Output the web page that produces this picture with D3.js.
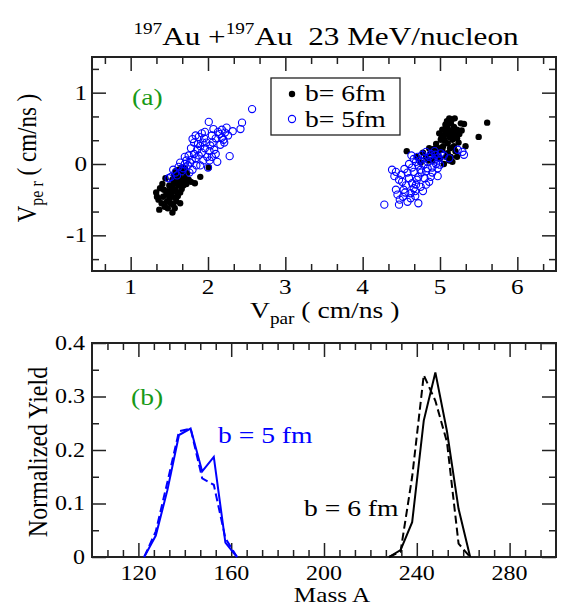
<!DOCTYPE html>
<html><head><meta charset="utf-8">
<script src="https://cdn.jsdelivr.net/npm/d3@7"></script>
<style>
html,body{margin:0;padding:0;background:#fff;}
svg{display:block;}
text{white-space:pre;}
</style></head>
<body><div id="chart"></div>
<script>
// ---------- DATA ----------
// Panel (a): b = 6 fm (filled black), b = 5 fm (open blue)  [Vpar, Vper]
const b6Left = [[1.37,-0.64],[1.54,-0.68],[1.34,-0.46],[1.38,-0.34],[1.45,-0.20],[1.56,-0.17],[1.66,-0.05],[1.90,-0.18],[1.83,-0.27],[2.01,-0.05],[1.64,-0.55],[1.55,-0.57],[1.47,-0.53],[1.42,-0.46],[1.58,-0.36],[1.36,-0.50],[1.40,-0.55],[1.44,-0.60],[1.50,-0.48],[1.52,-0.42],[1.48,-0.38],[1.53,-0.33],[1.56,-0.28],[1.60,-0.25],[1.62,-0.30],[1.65,-0.22],[1.63,-0.15],[1.68,-0.12],[1.70,-0.20],[1.60,-0.40],[1.57,-0.47],[1.61,-0.45],[1.66,-0.35],[1.72,-0.28],[1.75,-0.22],[1.67,-0.27],[1.54,-0.22],[1.58,-0.10],[1.62,-0.08],[1.70,-0.06],[1.50,-0.30],[1.46,-0.43],[1.43,-0.36],[1.52,-0.55],[1.48,-0.62],[1.59,-0.52],[1.64,-0.40],[1.68,-0.30],[1.73,-0.13],[1.78,-0.25],[1.55,-0.38],[1.62,-0.19],[1.57,-0.62],[1.41,-0.28],[1.33,-0.40]];
const b6Right = [[5.61,0.58],[5.50,0.38],[5.33,0.25],[4.57,0.18],[5.12,0.64],[5.19,0.64],[5.27,0.57],[5.31,0.56],[5.07,0.55],[5.10,0.50],[5.14,0.57],[5.18,0.52],[5.22,0.48],[5.08,0.44],[5.15,0.45],[5.20,0.43],[5.12,0.38],[5.05,0.40],[4.99,0.43],[5.01,0.34],[5.10,0.29],[5.16,0.34],[5.22,0.36],[5.25,0.42],[5.06,0.33],[5.04,0.25],[5.13,0.22],[4.86,0.22],[4.92,0.21],[4.97,0.17],[5.03,0.20],[5.10,0.15],[5.14,0.10],[5.16,0.03],[5.08,0.10],[5.00,0.08],[4.94,0.12],[4.88,0.15],[4.82,0.10],[4.78,0.16],[4.90,0.05],[5.05,0.00],[5.20,0.18],[5.18,0.25],[5.24,0.30],[5.09,0.60],[5.15,0.62],[5.03,0.48],[5.28,0.47],[5.11,0.47],[5.17,0.40],[4.95,0.28],[5.00,0.22],[4.85,0.05],[4.75,0.02],[5.12,0.05],[5.22,0.10],[4.70,0.10],[5.08,0.53],[5.02,0.37]];
const b5Left = [[2.57,0.77],[2.01,0.59],[2.44,0.58],[2.42,0.49],[2.32,0.46],[2.24,0.51],[2.18,0.48],[2.07,0.49],[2.13,0.45],[1.84,0.40],[1.88,0.38],[1.92,0.43],[2.28,0.11],[2.12,0.03],[2.18,0.37],[2.20,0.34],[2.16,0.27],[2.06,0.30],[2.08,0.20],[2.02,0.18],[1.99,0.10],[1.98,0.30],[1.95,0.36],[1.90,0.25],[1.86,0.20],[1.82,0.30],[1.80,0.35],[1.78,0.22],[1.75,0.12],[1.72,0.05],[1.70,0.00],[1.68,-0.06],[1.74,-0.02],[1.79,0.06],[1.84,0.08],[1.88,0.12],[1.92,0.16],[1.96,0.22],[2.03,0.26],[2.10,0.36],[2.15,0.42],[2.22,0.44],[2.26,0.40],[2.21,0.30],[2.05,0.10],[2.00,-0.05],[2.02,0.05],[1.94,0.05],[1.85,-0.02],[1.80,-0.08],[1.76,-0.12],[1.66,-0.10],[1.62,-0.04],[1.58,-0.12],[1.52,-0.18],[1.49,-0.20],[1.55,-0.08],[1.64,0.02],[1.70,0.10],[1.77,0.02],[1.87,0.28],[1.93,0.30],[2.05,0.40],[1.96,0.45],[2.10,0.14],[1.90,-0.02],[1.82,0.14],[1.60,-0.16]];
const b5Right = [[4.28,-0.57],[4.47,-0.57],[4.72,-0.55],[4.58,-0.53],[4.43,-0.36],[4.45,-0.43],[4.53,-0.36],[4.62,-0.41],[4.66,-0.34],[4.51,-0.25],[4.69,-0.29],[4.75,-0.32],[4.82,-0.29],[4.86,-0.25],[4.97,-0.17],[4.43,-0.11],[4.41,-0.17],[4.54,-0.07],[4.64,-0.05],[4.66,-0.11],[4.75,-0.08],[4.84,-0.06],[4.97,-0.06],[5.00,-0.01],[4.69,0.03],[4.71,0.10],[4.77,0.13],[4.82,0.17],[4.88,0.14],[4.94,0.13],[5.01,0.15],[4.92,0.06],[4.84,0.03],[4.79,-0.01],[5.12,0.08],[5.23,0.20],[5.29,0.17],[5.31,0.13],[4.60,-0.20],[4.72,-0.18],[4.80,-0.20],[4.90,-0.12],[4.58,-0.12],[4.62,-0.48],[4.52,-0.46],[4.48,-0.50],[4.68,-0.45],[4.70,-0.22],[4.56,-0.30],[4.78,-0.38],[4.64,-0.27],[4.74,0.05],[4.86,0.10],[4.95,0.00],[4.60,0.00],[4.66,0.07],[4.72,-0.02],[4.80,0.08],[4.90,-0.05],[4.98,0.05],[5.05,0.12],[4.50,-0.15],[4.47,-0.22],[4.55,-0.40],[4.68,-0.38],[4.76,-0.12],[4.82,-0.10],[4.88,-0.18],[4.93,0.18],[4.98,0.10],[4.38,-0.08],[4.63,0.12]];

// Panel (b): mass distributions
const massB5 = [122.5,127.5,132.5,137.5,142.5,147.5,152.5,157.5,162.5];
const yieldB5Solid  = [0,0.040,0.125,0.228,0.240,0.160,0.187,0.027,0];
const yieldB5Dashed = [0,0.048,0.140,0.235,0.240,0.147,0.135,0.035,0];
const massB6 = [228,233,238,243,248,253,258,263];
const yieldB6Solid  = [0,0.013,0.065,0.255,0.345,0.235,0.090,0];
const yieldB6Dashed = [0,0.010,0.150,0.340,0.292,0.215,0.025,0];

// Tick labels
const xTicksA = [1,2,3,4,5,6];
const yTicksA = [-1,0,1];
const xTicksB = [120,160,200,240,280];
const yTicksB = [0,0.1,0.2,0.3,0.4];
const legendLabels = ["b= 6fm","b= 5fm"];

// ---------- DRAWING ----------
const FONT = "'Liberation Serif', Tinos, 'Times New Roman', Times, serif";
const SX = 1.2; // horizontal stretch of the lettering
const W = 567, H = 607;
const BLUE = "#0000ff", GREEN = "#179a17", FRAME = "#222";
const svg = d3.select("#chart").append("svg").attr("width",W).attr("height",H).attr("font-family",FONT);
svg.append("rect").attr("width",W).attr("height",H).attr("fill","#fff");

function txt(x, y, size, anchor, rot) {
  return svg.append("text")
    .attr("transform",`translate(${x},${y}) scale(${SX},1)` + (rot ? ` rotate(${rot})` : ""))
    .attr("font-size",size).attr("text-anchor",anchor || "start").attr("font-family",FONT);
}

const L = 92, R = 556;
const xA = d3.scaleLinear().domain([0.5,6.5]).range([L,R]);
const yA = d3.scaleLinear().domain([-1.5,1.5]).range([271,57]);
const xB = d3.scaleLinear().domain([100,300]).range([L,R]);
const yB = d3.scaleLinear().domain([0,0.4]).range([557,343]);

function frame(x, y, majX, minX, majY, minY, fmtX, fmtY, fontSize, xLabY, yLabX) {
  const [x0,x1] = x.range(), [y0,y1] = y.range();
  const g = svg.append("g");
  const mk = (axis, tr) => {
    const a = g.append("g").attr("transform",tr).call(axis);
    a.select(".domain").remove();
    a.selectAll("text").remove();
    a.selectAll("line").attr("stroke",FRAME).attr("stroke-width",1.5);
  };
  mk(d3.axisBottom(x).tickValues(majX).tickSize(-14), `translate(0,${y0})`);
  mk(d3.axisBottom(x).tickValues(minX).tickSize(-7), `translate(0,${y0})`);
  mk(d3.axisTop(x).tickValues(majX).tickSize(-14), `translate(0,${y1})`);
  mk(d3.axisTop(x).tickValues(minX).tickSize(-7), `translate(0,${y1})`);
  mk(d3.axisLeft(y).tickValues(majY).tickSize(-14), `translate(${x0},0)`);
  mk(d3.axisLeft(y).tickValues(minY).tickSize(-7), `translate(${x0},0)`);
  mk(d3.axisRight(y).tickValues(majY).tickSize(-14), `translate(${x1},0)`);
  mk(d3.axisRight(y).tickValues(minY).tickSize(-7), `translate(${x1},0)`);
  g.append("rect").attr("x",x0).attr("y",y1).attr("width",x1-x0).attr("height",y0-y1)
    .attr("fill","none").attr("stroke",FRAME).attr("stroke-width",2);
  majX.forEach(v => txt(x(v), xLabY, fontSize, "middle").text(fmtX(v)));
  majY.forEach(v => txt(yLabX, y(v) + fontSize*0.34, fontSize, "end").text(fmtY(v)));
}

// ---- Panel (a)
const minXA = d3.range(2,20).filter(k=>k%3!==0).map(k=>k/3);
const minYA = [-4/3,-2/3,-1/3,1/3,2/3,4/3];
frame(xA, yA, xTicksA, minXA, yTicksA, minYA, d3.format("d"), d=>d<0?"-"+Math.abs(d):String(d), 21, 294, 87);

svg.append("clipPath").attr("id","clipA").append("rect")
  .attr("x",L).attr("y",57).attr("width",R-L).attr("height",214);
const gA = svg.append("g").attr("clip-path","url(#clipA)");
const blackPts = b6Left.concat(b6Right);
const bluePts = b5Left.concat(b5Right);
gA.selectAll("circle.b6").data(blackPts).join("circle").attr("class","b6")
  .attr("cx",d=>xA(d[0])).attr("cy",d=>yA(d[1])).attr("r",3.2).attr("fill","#000");
gA.selectAll("circle.b5").data(bluePts).join("circle").attr("class","b5")
  .attr("cx",d=>xA(d[0])).attr("cy",d=>yA(d[1])).attr("r",3.6)
  .attr("fill","none").attr("stroke",BLUE).attr("stroke-width",1.1);

// legend
svg.append("rect").attr("x",271).attr("y",78).attr("width",129).attr("height",57)
  .attr("fill","#fff").attr("stroke",FRAME).attr("stroke-width",1.3);
svg.append("circle").attr("cx",292).attr("cy",94).attr("r",3.2).attr("fill","#000");
svg.append("circle").attr("cx",292).attr("cy",119).attr("r",3.6).attr("fill","none").attr("stroke",BLUE).attr("stroke-width",1.1);
txt(305, 101, 23).text(legendLabels[0]);
txt(305, 127, 23).text(legendLabels[1]);

txt(132, 105, 23).attr("fill",GREEN).text("(a)");

// axis titles (a)
const xtA = txt(250, 318, 23);
xtA.append("tspan").text("V");
xtA.append("tspan").attr("font-size",16).attr("dy",6).text("par");
xtA.append("tspan").attr("dy",-6).text(" ( cm/ns )");
const ytA = svg.append("text").attr("transform","translate(36,158) scale(1.15,1) rotate(-90)")
  .attr("text-anchor","middle").attr("font-size",23).attr("font-family",FONT);
ytA.append("tspan").text("V");
ytA.append("tspan").attr("font-size",16).attr("dy",6).text("pe r");
ytA.append("tspan").attr("dy",-6).text(" ( cm/ns )");

// title
const tt = txt(326, 45, 26, "middle");
tt.append("tspan").attr("font-size",16).attr("dy",-11).text("197");
tt.append("tspan").attr("dy",11).text("Au +");
tt.append("tspan").attr("font-size",16).attr("dy",-11).text("197");
tt.append("tspan").attr("dy",11).text("Au  23 MeV/nucleon");

// ---- Panel (b)
const minXB = d3.range(0,31).map(k=>100+k*20/3).filter(v=>v>100.1 && v<299.9 && Math.abs((v-120)/40-Math.round((v-120)/40))>0.01);
const minYB = [0.05,0.15,0.25,0.35];
frame(xB, yB, xTicksB, minXB, yTicksB, minYB, d3.format("d"), d=>d===0?"0":d3.format(".1f")(d), 20, 580, 85);

const line = d3.line().x(d=>xB(d[0])).y(d=>yB(d[1]));
const gB = svg.append("g");
function drawLine(xs, ys, color, dashed) {
  gB.append("path").datum(xs.map((v,i)=>[v,ys[i]])).attr("d",line)
    .attr("fill","none").attr("stroke",color).attr("stroke-width",2)
    .attr("stroke-dasharray",dashed?"8,4":null);
}
drawLine(massB5, yieldB5Solid, BLUE, false);
drawLine(massB5, yieldB5Dashed, BLUE, true);
drawLine(massB6, yieldB6Solid, "#000", false);
drawLine(massB6, yieldB6Dashed, "#000", true);

txt(131, 405, 23).attr("fill",GREEN).text("(b)");
txt(218, 443, 23).attr("fill",BLUE).text("b = 5 fm");
txt(304, 516, 23).attr("fill","#000").text("b = 6 fm");

txt(332, 602, 21, "middle").text("Mass A");
svg.append("text").attr("transform","translate(47,452) scale(1.15,1) rotate(-90)")
  .attr("text-anchor","middle").attr("font-size",24).attr("font-family",FONT).text("Normalized Yield");
</script></body></html>
